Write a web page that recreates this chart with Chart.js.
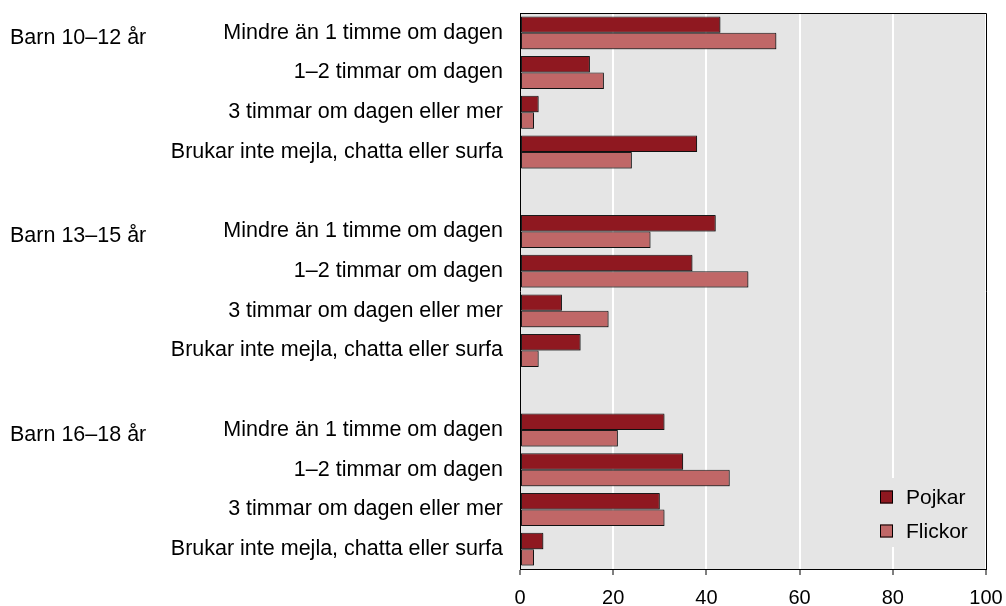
<!DOCTYPE html>
<html>
<head>
<meta charset="utf-8">
<script src="https://cdn.jsdelivr.net/npm/chart.js@4"></script>
<style>
  body { margin: 0; background: #fff; }
  #wrap { width: 1006px; height: 606px; }
</style>
</head>
<body>
<div id="wrap"><canvas id="chart" width="1006" height="606"></canvas></div>
<script>
// Grupper och svarskategorier
const groups = ['Barn 10–12 år', 'Barn 13–15 år', 'Barn 16–18 år'];
const categories = [
    'Mindre än 1 timme om dagen',
    '1–2 timmar om dagen',
    '3 timmar om dagen eller mer',
    'Brukar inte mejla, chatta eller surfa'
];

// Andel (%) per grupp
const pojkar10_12 = [43, 15, 4, 38];
const pojkar13_15 = [42, 37, 9, 13];
const pojkar16_18 = [31, 35, 30, 5];
const flickor10_12 = [55, 18, 3, 24];
const flickor13_15 = [28, 49, 19, 4];
const flickor16_18 = [21, 45, 31, 3];

const xTicks = [0, 20, 40, 60, 80, 100];

const FONT = "'Liberation Sans', Arial, sans-serif";

// Bygger etiketter med tom rad mellan grupperna
function buildRows(parts) {
    const out = [];
    parts.forEach((p, i) => {
        if (i > 0) out.push(null);
        p.forEach(v => out.push(v));
    });
    return out;
}

const labels = buildRows([categories, categories, categories]).map(l => l === null ? '' : l);
const pojkar = buildRows([pojkar10_12, pojkar13_15, pojkar16_18]);
const flickor = buildRows([flickor10_12, flickor13_15, flickor16_18]);
const groupStart = groups.map((g, i) => i * (categories.length + 1));

// Bakgrund, ram, gruppnamn och legend
const decor = {
    id: 'decor',
    beforeDraw(chart) {
        const { ctx, chartArea: a } = chart;
        ctx.save();
        ctx.fillStyle = '#e5e5e5';
        ctx.fillRect(a.left, a.top, a.right - a.left, a.bottom - a.top);
        ctx.restore();
    },
    beforeDatasetsDraw(chart) {
        const { ctx, chartArea: a } = chart;
        // legendens bakgrund döljer stödlinjen
        ctx.save();
        ctx.fillStyle = '#e5e5e5';
        ctx.fillRect(a.right - 116, a.bottom - 91, 115, 69);
        ctx.restore();
        ctx.save();
        ctx.shadowColor = 'rgba(0,0,0,0.35)';
        ctx.shadowOffsetX = 1;
        ctx.shadowOffsetY = 1;
    },
    afterDatasetsDraw(chart) {
        chart.ctx.restore();
    },
    afterDraw(chart) {
        const { ctx, chartArea: a, scales } = chart;
        ctx.save();
        ctx.strokeStyle = '#000';
        ctx.lineWidth = 1;
        ctx.beginPath();
        ctx.moveTo(a.left, a.top + 0.5);
        ctx.lineTo(a.right + 0.5, a.top + 0.5);
        ctx.lineTo(a.right + 0.5, a.bottom);
        ctx.stroke();

        ctx.fillStyle = '#000';
        ctx.font = '21.5px ' + FONT;
        ctx.textAlign = 'left';
        ctx.textBaseline = 'middle';
        groups.forEach((g, i) => {
            ctx.fillText(g, 10, scales.y.getPixelForValue(groupStart[i]) + 5);
        });

        // legend
        ctx.font = '21px ' + FONT;
        const x0 = a.right - 106;
        chart.data.datasets.forEach((ds, i) => {
            const y = a.bottom - 72 + i * 34;
            ctx.fillStyle = ds.backgroundColor;
            ctx.fillRect(x0, y - 6.5, 13, 13);
            ctx.strokeStyle = '#000';
            ctx.strokeRect(x0 + 0.5, y - 6, 12, 12);
            ctx.fillStyle = '#000';
            ctx.fillText(ds.label, x0 + 26, y + 1);
        });
        ctx.restore();
    }
};

new Chart(document.getElementById('chart'), {
    type: 'bar',
    data: {
        labels: labels,
        datasets: [
            {
                label: 'Pojkar',
                data: pojkar,
                backgroundColor: '#8f1820',
                borderColor: '#1a1a1a',
                borderWidth: 1,
                borderSkipped: false,
            },
            {
                label: 'Flickor',
                data: flickor,
                backgroundColor: '#c06767',
                borderColor: '#1a1a1a',
                borderWidth: 1,
                borderSkipped: false,
            }
        ]
    },
    options: {
        indexAxis: 'y',
        responsive: false,
        animation: false,
        categoryPercentage: 0.83,
        barPercentage: 1,
        layout: { padding: { top: 13, right: 20, left: 0, bottom: 0 } },
        plugins: {
            legend: { display: false },
            tooltip: { enabled: false }
        },
        scales: {
            x: {
                min: 0,
                max: 100,
                afterBuildTicks: s => { s.ticks = xTicks.map(v => ({ value: v })); },
                afterFit: s => {
                    s.height = 37;
                    s.paddingLeft = 0;
                    s.paddingRight = 0;
                },
                grid: {
                    color: '#ffffff',
                    lineWidth: 2,
                    tickColor: '#000',
                    tickWidth: 1,
                    tickLength: 6
                },
                border: { color: '#000', width: 1 },
                ticks: {
                    color: '#000',
                    padding: 11,
                    maxRotation: 0,
                    font: { family: FONT, size: 20 }
                }
            },
            y: {
                afterFit: s => {
                    s.width = 520;
                    s.paddingTop = 0;
                    s.paddingBottom = 0;
                },
                grid: { display: false, drawTicks: false },
                border: { color: '#000', width: 1 },
                ticks: {
                    color: '#000',
                    padding: 17,
                    autoSkip: false,
                    font: { family: FONT, size: 21.5 }
                }
            }
        }
    },
    plugins: [decor]
});
</script>
</body>
</html>
